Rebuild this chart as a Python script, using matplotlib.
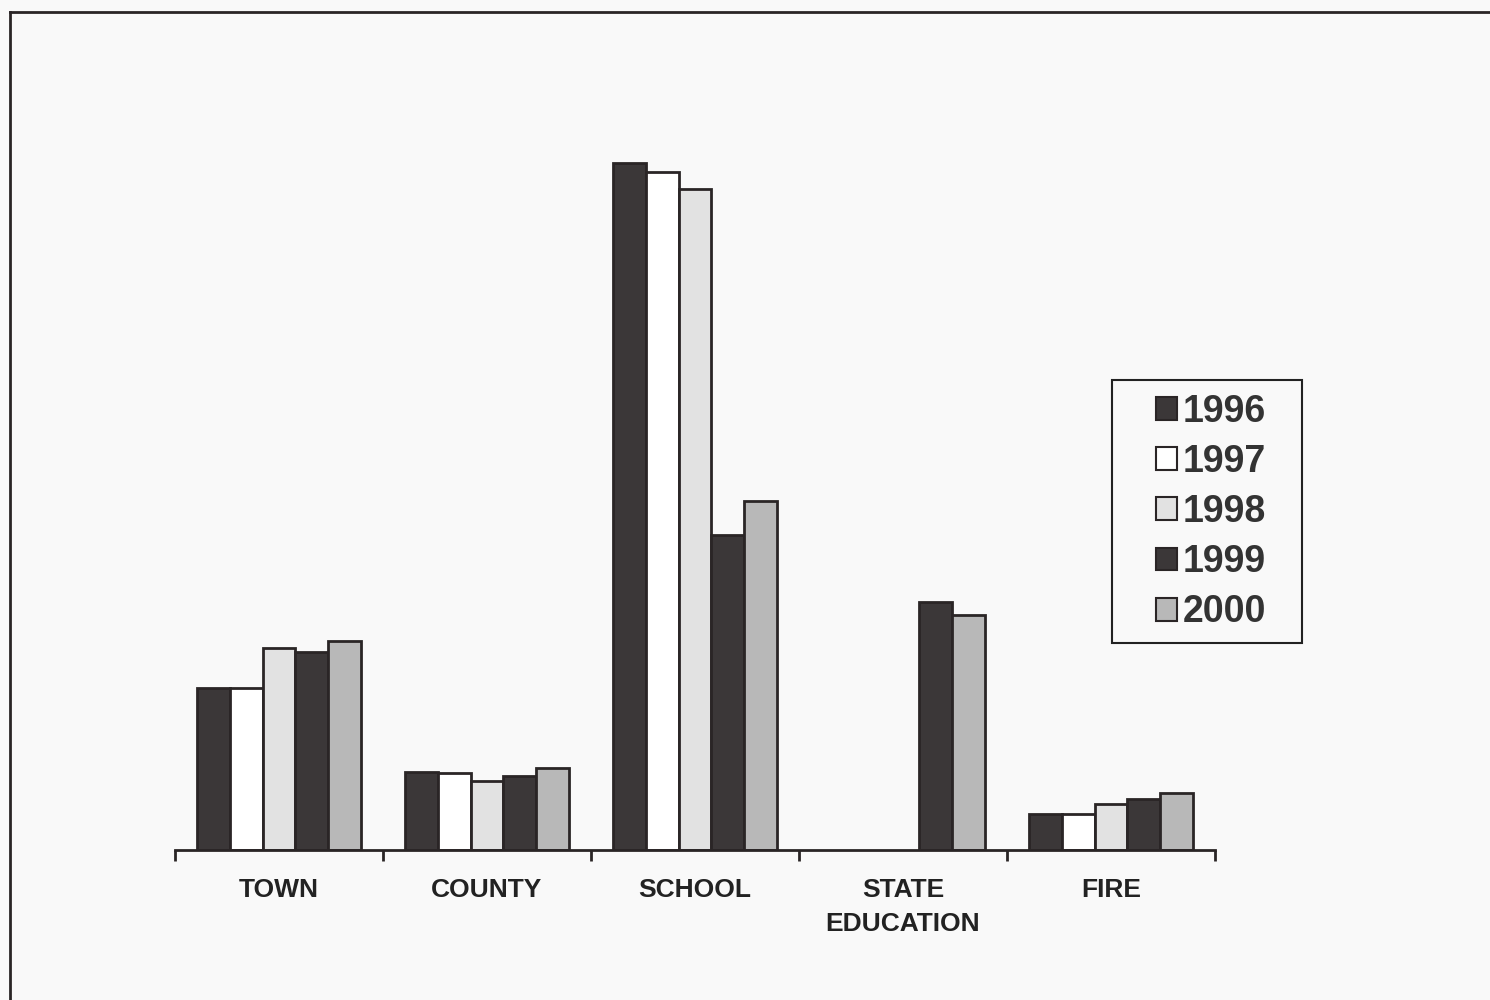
import matplotlib
matplotlib.use("Agg")
import matplotlib.pyplot as plt
import numpy as np
from matplotlib.lines import Line2D
from matplotlib.patches import Rectangle

categories = ["TOWN", "COUNTY", "SCHOOL", "STATE\nEDUCATION", "FIRE"]
years = ["1996", "1997", "1998", "1999", "2000"]
v1996 = [162, 78, 687, 0, 36]
v1997 = [162, 77, 678, 0, 36]
v1998 = [202, 69, 661, 0, 46]
v1999 = [198, 74, 315, 248, 51]
v2000 = [209, 82, 349, 235, 57]
series = [v1996, v1997, v1998, v1999, v2000]
colors = ["#3b3738", "#ffffff", "#e2e2e2", "#3b3738", "#b8b8b8"]

plt.rcParams['font.family'] = ['Liberation Sans', 'DejaVu Sans']
bg = "#f9f9f9"
W, H = 1490, 1000
fig = plt.figure(figsize=(14.9, 10), dpi=100, facecolor=bg)
ax = fig.add_axes([175/W, 0.15, (1215-175)/W, 0.70])
ax.set_facecolor(bg)

x = np.arange(len(categories))
w = 0.157
for i, (vals, c, yr) in enumerate(zip(series, colors, years)):
    off = (i - 2) * w
    hv = [v if v > 0 else np.nan for v in vals]
    ax.bar(x + off, hv, width=w, color=c, edgecolor="#2a2526",
           linewidth=2, label=yr, zorder=2)

ax.set_xlim(-0.5, 4.5)
ax.set_ylim(0, 700)
for s in ["left", "right", "top"]:
    ax.spines[s].set_visible(False)
ax.spines["bottom"].set_linewidth(2)
ax.spines["bottom"].set_color("#2a2526")
ax.set_yticks([])
ax.set_xticks(x)
ax.set_xticklabels(categories, fontsize=19, fontweight="bold", color="#222",
                   linespacing=1.55)
ax.tick_params(axis="x", which="major", length=0, pad=20)
ax.set_xticks(np.arange(-0.5, 5.0, 1.0), minor=True)
ax.tick_params(axis="x", which="minor", length=8, width=2, color="#2a2526",
               direction="out")

# legend box
fig.add_artist(Rectangle((1112/W, 1-643/H), (1302-1112)/W, (643-380)/H,
                         transform=fig.transFigure, facecolor="none",
                         edgecolor="#222", linewidth=1.5, zorder=3))
leg = fig.legend(*ax.get_legend_handles_labels(),
                 loc="center left", bbox_to_anchor=(1156/W, 1-512/H),
                 bbox_transform=fig.transFigure, frameon=False,
                 prop={"size": 27, "weight": "bold"}, handlelength=0.56,
                 handleheight=0.56, handletextpad=0.14, labelspacing=0.38,
                 borderpad=0, borderaxespad=0)
leg.set_zorder(4)
for t in leg.get_texts():
    t.set_color("#333")
for h in leg.legend_handles:
    h.set_linewidth(1.5)

# outer frame (left and top edges visible)
fig.add_artist(Line2D([10/W, 10/W], [0, 1-12/H], transform=fig.transFigure,
                      color="#2a2526", linewidth=2))
fig.add_artist(Line2D([10/W, 1], [1-12/H, 1-12/H], transform=fig.transFigure,
                      color="#2a2526", linewidth=2))

fig.savefig("out.png", dpi=100, facecolor=bg)
